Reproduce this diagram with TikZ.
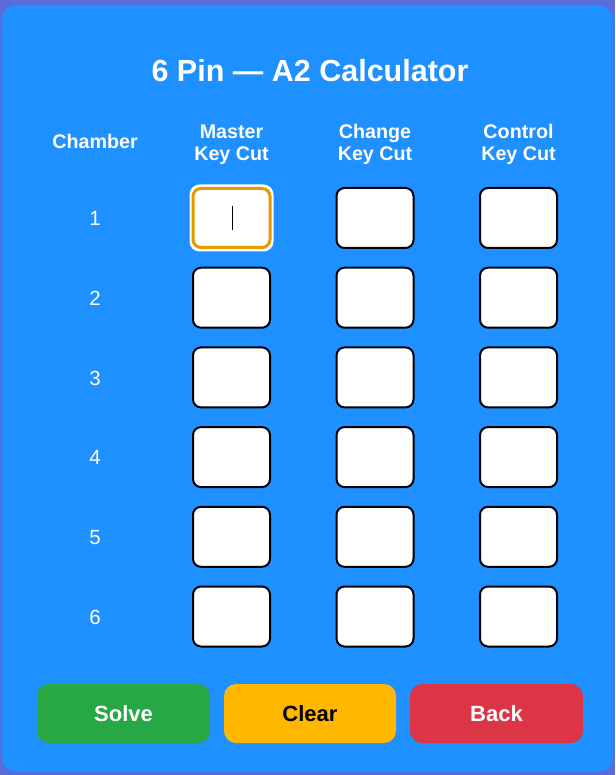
\documentclass[tikz,border=0pt]{standalone}
\usepackage{fontspec}
\setmainfont{Liberation Sans}
\definecolor{outerbg}{HTML}{5B6CD9}
\definecolor{cardbg}{HTML}{1E90FF}
\definecolor{focusor}{HTML}{E69A00}
\definecolor{btngreen}{HTML}{28A745}
\definecolor{btnyellow}{HTML}{FFB700}
\definecolor{btnred}{HTML}{DC3545}
\tikzset{
  cell/.style={rectangle, rounded corners=8pt, draw=black, line width=2pt, fill=white,
    minimum width=77pt, minimum height=60pt, inner sep=0pt},
  focuscell/.style={cell, draw=focusor, line width=3pt, minimum width=77pt, minimum height=59pt},
  hdr/.style={text=white, font=\fontsize{19.7}{22.5}\selectfont\bfseries, align=center, inner sep=0pt},
  num/.style={text=white, font=\fontsize{20.5}{24}\selectfont, inner sep=0pt, anchor=base},
  btn/.style={rounded corners=12pt},
  btntext/.style={font=\fontsize{22}{25}\selectfont\bfseries, inner sep=0pt, anchor=base},
}
\begin{document}
\begin{tikzpicture}[x=1pt,y=-1pt]
\useasboundingbox (0,0) rectangle (615,775);
\fill[outerbg] (0,0) rectangle (615,775);
\fill[cardbg, rounded corners=15pt] (2,5) rectangle (613,772);
% title
\node[text=white, font=\fontsize{30.5}{34}\selectfont\bfseries, inner sep=0pt, anchor=base] (title) at (310,81.7) {6 Pin — A2 Calculator};
% headers
\node[hdr, anchor=base] (hchamber) at (95,149) {Chamber};
\node[hdr] (hmaster) at (231.5,143.8) {\strut Master\\Key Cut};
\node[hdr] (hchange) at (375,143.8) {\strut Change\\Key Cut};
\node[hdr] (hcontrol) at (518.5,143.8) {\strut Control\\Key Cut};
% rows
\foreach \i in {1,...,6}{
  \pgfmathsetmacro{\yy}{218+79.7*(\i-1)}
  \node[num] (n\i) at (95,\yy+7.7) {\i};
  \ifnum\i=1
    \node[rectangle, rounded corners=10pt, fill=white, minimum width=84pt, minimum height=67pt, inner sep=0pt] (ring) at (231.5,\yy) {};
    \node[focuscell] (m\i) at (231.5,\yy) {};
  \else
    \node[cell] (m\i) at (231.5,\yy) {};
  \fi
  \node[cell] (c\i) at (375,\yy) {};
  \node[cell] (k\i) at (518.5,\yy) {};
}
\coordinate (curtop) at (232.5,206);
\coordinate (curbot) at (232.5,230.5);
\draw[black, line width=1pt] (curtop) -- (curbot);
% buttons
\fill[btngreen, btn] (37,684) rectangle (210,743);
\fill[btnyellow, btn] (224,684) rectangle (396,743);
\fill[btnred, btn] (410,684) rectangle (583,743);
\node[btntext, text=white] (solve) at (123.5,721) {Solve};
\node[btntext, text=black] (clear) at (310,721) {Clear};
\node[btntext, text=white] (back) at (496.5,721) {Back};
\end{tikzpicture}
\end{document}
